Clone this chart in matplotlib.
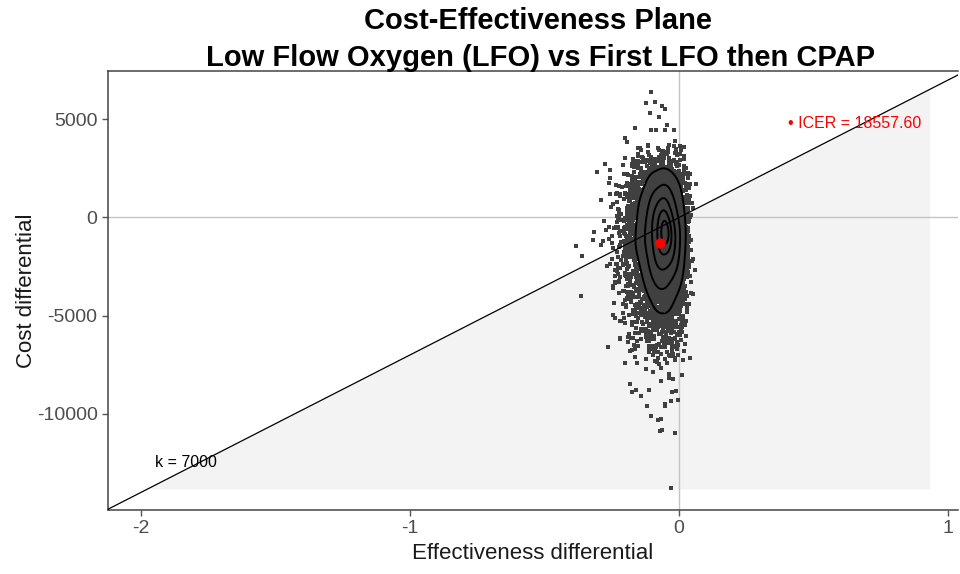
import numpy as np
import matplotlib
matplotlib.use("Agg")
import matplotlib.pyplot as plt

plt.rcParams['font.family'] = ['Liberation Sans', 'DejaVu Sans']

# Willingness-to-pay threshold and ICER summary
k_wtp = 7000
mean_delta_e = -0.07
mean_delta_c = -1299.03
icer_value = 18557.60

# Simulated (PSA) cloud summary: centre, spread and skew of each axis
cloud_n = 5000
cloud_centre = [-0.072, -1250.0]
cloud_sd = [0.056, 2150.0]
cloud_skew = [0.006, 150.0]

# Individual extreme simulations far from the core
tail_e = [-0.104, -0.123, -0.090, -0.062, -0.052, -0.030, -0.015, -0.140, -0.160,
          -0.120, -0.105, -0.080, -0.200, -0.025, -0.003, 0.010, -0.250, -0.260,
          -0.110, -0.075, -0.045]
tail_c = [6410, 5820, 5900, 5700, 5500, -13790, -11000, -9100, -8800,
          -9600, -10100, -10300, -7400, -8900, -9300, -8000, -1300, -1100,
          5300, 5100, 4700]

# Axis ranges and ticks
x_lim = [-2.123, 1.037]
y_lim = [-14900, 7450]
x_ticks = [-2, -1, 0, 1]
y_ticks = [5000, 0, -5000, -10000]

# Shaded sustainability region bounds
region_x_max = 0.933
region_y_min = -13850

rng = np.random.default_rng(2024)
z1 = rng.standard_normal(cloud_n)
z2 = rng.standard_normal(cloud_n)
delta_e = cloud_centre[0] + cloud_sd[0] * z1 - cloud_skew[0] * (z1 ** 2 - 1)
delta_c = cloud_centre[1] + cloud_sd[1] * z2 - cloud_skew[1] * (z2 ** 2 - 1)
delta_e = np.concatenate([delta_e, tail_e])
delta_c = np.concatenate([delta_c, tail_c])

fig = plt.figure(figsize=(9.6, 5.74), dpi=100)
ax = fig.add_axes([0.1125, 0.1115, 0.8855, 0.7645])
ax.set_xlim(x_lim)
ax.set_ylim(y_lim)

# Acceptability region below the threshold line
x_start = region_y_min / k_wtp
poly_x = [x_start, region_x_max, region_x_max]
poly_y = [region_y_min, k_wtp * region_x_max, region_y_min]
ax.fill(poly_x, poly_y, color='#f3f3f3', zorder=0, lw=0)

ax.axhline(0, color='#c4c4c4', lw=1.0, zorder=1)
ax.axvline(0, color='#c4c4c4', lw=1.0, zorder=1)

ax.scatter(delta_e, delta_c, s=5.5, marker='s', color='#404040', lw=0, zorder=2)

# Kernel density contours of the simulations
gx = np.linspace(-0.35, 0.15, 160)
gy = np.linspace(-10000, 7000, 160)
GX, GY = np.meshgrid(gx, gy)
hx = 1.3 * delta_e.std() * len(delta_e) ** (-1 / 6)
hy = 1.3 * delta_c.std() * len(delta_c) ** (-1 / 6)
dens = np.zeros_like(GX)
for i in range(0, len(delta_e), 500):
    ex = delta_e[i:i + 500]
    ec = delta_c[i:i + 500]
    kx = np.exp(-0.5 * ((gx[None, :] - ex[:, None]) / hx) ** 2)
    ky = np.exp(-0.5 * ((gy[None, :] - ec[:, None]) / hy) ** 2)
    dens += ky.T @ kx
dens /= dens.max()
ax.contour(GX, GY, dens, levels=[0.25, 0.5, 0.72, 0.88, 0.965], colors='black',
           linewidths=1.4, zorder=3)

# Threshold line through the origin
ax.plot(x_lim, [k_wtp * x_lim[0], k_wtp * x_lim[1]], color='black', lw=0.9, zorder=4)

ax.plot([mean_delta_e], [mean_delta_c], 'o', color='red', ms=6.5, zorder=5)
ax.text(0.405, 4790, '\u2022 ICER = %.2f' % icer_value, color='red', fontsize=11.5,
        va='center', ha='left', zorder=6)
ax.text(-1.948, -12470, 'k = %d' % k_wtp, color='black', fontsize=11.5,
        va='center', ha='left', zorder=6)

ax.set_xticks(x_ticks)
ax.set_xticklabels([str(v) for v in x_ticks])
ax.set_yticks(y_ticks)
ax.set_yticklabels([str(v) for v in y_ticks])
ax.tick_params(axis='both', colors='#555555', labelcolor='#4d4d4d', labelsize=14,
               length=4, width=1.0, direction='out')
for sp in ax.spines.values():
    sp.set_color('#444444')
    sp.set_linewidth(1.1)
ax.spines['right'].set_visible(False)

ax.set_xlabel('Effectiveness differential', fontsize=16, color='#1a1a1a', labelpad=4)
ax.set_ylabel('Cost differential', fontsize=16, color='#1a1a1a', labelpad=0)
fig.text(0.560, 1 - 21 / 574, 'Cost-Effectiveness Plane',
         fontsize=21, fontweight='bold', ha='center', va='center')
fig.text(0.5635, 1 - 58 / 574, 'Low Flow Oxygen (LFO) vs First LFO then CPAP',
         fontsize=21, fontweight='bold', ha='center', va='center')

fig.savefig('out.png', dpi=100)
